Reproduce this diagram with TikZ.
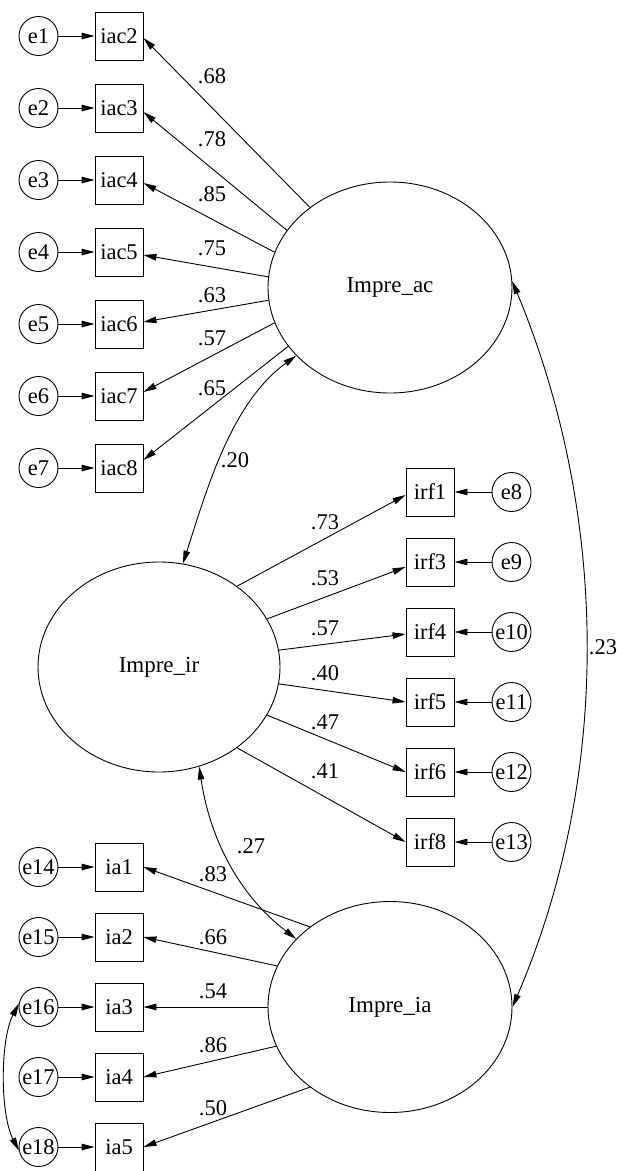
\documentclass[tikz,border=0pt]{standalone}
\usepackage{fontspec}
\setmainfont{Liberation Serif}
\usetikzlibrary{shapes.geometric,arrows.meta,calc}
\begin{document}
\begin{tikzpicture}[x=1pt,y=-1pt,
  every node/.style={font=\fontsize{22.5}{26}\selectfont},
  obs/.style={draw, rectangle, minimum width=48pt, minimum height=48pt, inner sep=0pt, line width=0.9pt},
  err/.style={draw, circle, minimum size=39pt, inner sep=0pt, line width=0.9pt},
  lat/.style={draw, ellipse, minimum width=244pt, minimum height=211pt, inner sep=0pt, line width=0.9pt, font=\fontsize{23}{27}\selectfont},
  lab/.style={inner sep=0pt},
  arr/.style={-{Triangle[length=13pt,width=6.5pt]}, line width=0.9pt},
  darr/.style={{Triangle[length=13pt,width=6.5pt]}-{Triangle[length=13pt,width=6.5pt]}, line width=0.9pt}]
\useasboundingbox (0,0) rectangle (617,1171);

% latent variables
\node[lat] (ac) at (390,287.5) {Impre\_ac};
\node[lat, minimum width=242pt, minimum height=210pt] (ir) at (159,667) {Impre\_ir};
\node[lat] (ia) at (390,1007) {Impre\_ia};

% Impre_ac indicators
\foreach \n/\k in {1/2,2/3,3/4,4/5,5/6,6/7,7/8}{
  \node[err] (e\n) at (38.5,{36+72*(\n-1)}) {e\n};
  \node[obs] (iac\k) at (119,{36+72*(\n-1)}) {iac\k};
  \draw[arr] (e\n) -- (iac\k);
}
% Impre_ir indicators
\foreach \n/\k/\y in {8/1/492,9/3/562,10/4/632,11/5/702,12/6/772,13/8/842}{
  \node[obs] (irf\k) at (430,\y) {irf\k};
  \node[err] (e\n) at (511.5,\y) {e\n};
  \draw[arr] (e\n) -- (irf\k);
}
% Impre_ia indicators
\foreach \n/\k/\y in {14/1/867,15/2/937,16/3/1007,17/4/1077,18/5/1147}{
  \node[err] (e\n) at (38.5,\y) {e\n};
  \node[obs] (ia\k) at (119,\y) {ia\k};
  \draw[arr] (e\n) -- (ia\k);
}

% loadings Impre_ac
\draw[arr] (ac.135) -- ($(iac2.east)+(0,2)$);
\draw[arr] (ac.151) -- ($(iac3.east)+(0,4)$);
\draw[arr] (ac.163) -- ($(iac4.east)+(0,3)$);
\draw[arr] (ac.175) -- ($(iac5.east)+(0,3)$);
\draw[arr] (ac.186) -- ($(iac6.east)+(0,-2)$);
\draw[arr] (ac.197) -- ($(iac7.east)+(0,-4)$);
\draw[arr] (ac.210) -- ($(iac8.east)+(0,-8)$);
\node[lab] (l1) at (212,76) {.68};
\node[lab] (l2) at (212,139) {.78};
\node[lab] (l3) at (212,194) {.85};
\node[lab] (l4) at (212,248) {.75};
\node[lab] (l5) at (212,295) {.63};
\node[lab] (l6) at (212,338) {.57};
\node[lab] (l7) at (212,388) {.65};

% loadings Impre_ir
\draw[arr] (ir.46) -- ($(irf1.west)+(0,3)$);
\draw[arr] (ir.24) -- ($(irf3.west)+(0,5)$);
\draw[arr] (ir.8) -- ($(irf4.west)+(0,2)$);
\draw[arr] (ir.-8) -- (irf5.west);
\draw[arr] (ir.-24) -- (irf6.west);
\draw[arr] (ir.-46) -- (irf8.west);
\node[lab] (l8) at (325,522) {.73};
\node[lab] (l9) at (325,578) {.53};
\node[lab] (l10) at (325,628) {.57};
\node[lab] (l11) at (325,673) {.40};
\node[lab] (l12) at (325,722) {.47};
\node[lab] (l13) at (325,771) {.41};

% loadings Impre_ia
\draw[arr] (ia.135) -- (ia1.east);
\draw[arr] (ia.160.5) -- (ia2.east);
\draw[arr] (ia.180) -- (ia3.east);
\draw[arr] (ia.199.5) -- (ia4.east);
\draw[arr] (ia.225) -- (ia5.east);
\node[lab] (l14) at (213,874) {.83};
\node[lab] (l15) at (213,937) {.66};
\node[lab] (l16) at (213,991) {.54};
\node[lab] (l17) at (213,1045) {.86};
\node[lab] (l18) at (213,1108) {.50};

% covariances
\draw[darr] (ac.216) .. controls (231,403) and (207,489) .. (ir.77);
\node[lab] (c1) at (235,460) {.20};
\draw[darr] (ir.-68.5) .. controls (210,840) and (240,896) .. (ia.144);
\node[lab] (c2) at (251,846) {.27};
\draw[darr] (ac.3) .. controls (609,514) and (612,775) .. (ia.0);
\node[lab] (c3) at (603,647) {.23};
\draw[darr] (e16.170) .. controls (0,1040) and (0,1114) .. (e18.190);
\end{tikzpicture}
\end{document}
